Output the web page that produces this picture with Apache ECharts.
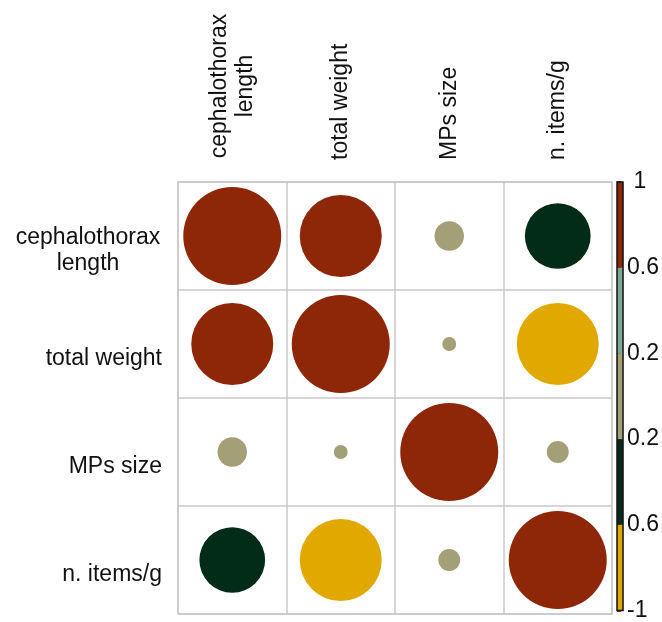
<!DOCTYPE html>
<html>
<head>
<meta charset="utf-8">
<script src="https://cdn.jsdelivr.net/npm/echarts@6/dist/echarts.min.js"></script>
<style>
  html, body { margin: 0; padding: 0; background: #fff; }
  #main { width: 662px; height: 622px; }
</style>
</head>
<body>
<div id="main"></div>
<script>
// variables, same order for rows and columns
const variables = ['cephalothorax\nlength', 'total weight', 'MPs size', 'n. items/g'];

// correlations (circle area ~ |r|)
const corrRows = [
  [1.00, 0.70, 0.09, -0.45],
  [0.70, 1.00, 0.02, -0.70],
  [0.09, 0.02, 1.00, 0.05],
  [-0.45, -0.70, 0.05, 1.00]
];

// colour legend, bottom to top
const colorBreaks = [-1, -0.6, -0.2, 0.2, 0.6, 1];
const bandColors = ['#E1A900', '#022C17', '#A39F77', '#7DA797', '#8E2708'];
const colorbarLabels = ['-1', '0.6', '0.2', '0.2', '0.6', ' 1'];

const labelFont = 'Liberation Sans, Arial, sans-serif';
const fs = 23;
const maxDiameter = 98;

let cells = [];
corrRows.forEach((row, i) => {
  row.forEach((r, j) => cells.push([j, i, r]));
});

let bands = [];
for (let k = 0; k < bandColors.length; k++) {
  bands.push([colorBreaks[k], colorBreaks[k + 1], k]);
}

// two-line labels get their lines centred
const twoLine = v => v.indexOf('\n') >= 0
  ? v.split('\n').map(s => '{c|' + s + '}').join('\n')
  : v;
const richStyle = { c: { width: 148, align: 'center', fontSize: fs, lineHeight: 26, color: '#111', fontFamily: labelFont } };

let myChart = echarts.init(document.getElementById('main'));
myChart.setOption({
  animation: false,
  grid: [
    { left: 178, top: 182, width: 434, height: 432, show: true, borderColor: '#c8c8c8', borderWidth: 1.5 },
    { left: 617, top: 182, width: 15, height: 433, show: true, borderColor: '#111', borderWidth: 1.5, z: 5 }
  ],
  xAxis: [
    {
      gridIndex: 0,
      type: 'category',
      data: variables,
      position: 'top',
      axisLine: { show: false },
      axisTick: { show: false },
      splitLine: { show: true, lineStyle: { color: '#c8c8c8', width: 1.5 } },
      axisLabel: {
        rotate: -90, margin: 22, fontSize: fs, color: '#111', fontFamily: labelFont,
        lineHeight: 26, formatter: twoLine, rich: richStyle
      }
    },
    { gridIndex: 1, type: 'value', min: 0, max: 1, show: false }
  ],
  yAxis: [
    {
      gridIndex: 0,
      type: 'category',
      data: variables,
      inverse: true,
      axisLine: { show: false },
      axisTick: { show: false },
      splitLine: { show: true, lineStyle: { color: '#c8c8c8', width: 1.5 } },
      axisLabel: {
        margin: 16, fontSize: fs, color: '#111', fontFamily: labelFont,
        lineHeight: 26, padding: [30, 0, 0, 0], formatter: twoLine, rich: richStyle
      }
    },
    {
      gridIndex: 1,
      type: 'value',
      min: -1,
      max: 1,
      position: 'right',
      axisLine: { show: false },
      splitLine: { show: false },
      axisTick: { show: true, length: 4, customValues: colorBreaks, lineStyle: { color: '#111', width: 1.5 } },
      axisLabel: {
        customValues: colorBreaks, margin: 4, fontSize: fs, color: '#111', fontFamily: labelFont,
        formatter: v => {
          let k = 0;
          colorBreaks.forEach((b, i) => { if (Math.abs(b - v) < 1e-6) k = i; });
          return colorbarLabels[k];
        }
      }
    }
  ],
  visualMap: {
    type: 'piecewise',
    show: false,
    dimension: 2,
    seriesIndex: 0,
    pieces: bandColors.map((c, k) => ({ gte: colorBreaks[k], lt: k === bandColors.length - 1 ? 1.0001 : colorBreaks[k + 1], color: c }))
  },
  series: [
    {
      type: 'scatter',
      xAxisIndex: 0,
      yAxisIndex: 0,
      data: cells,
      symbol: 'circle',
      symbolSize: val => maxDiameter * Math.sqrt(Math.abs(val[2])),
      itemStyle: { opacity: 1 },
      emphasis: { disabled: true }
    },
    {
      type: 'custom',
      xAxisIndex: 1,
      yAxisIndex: 1,
      data: bands,
      renderItem: (params, api) => {
        const p0 = api.coord([0, api.value(0)]);
        const p1 = api.coord([1, api.value(1)]);
        return {
          type: 'rect',
          shape: { x: p0[0], y: p1[1], width: p1[0] - p0[0], height: p0[1] - p1[1] },
          style: { fill: bandColors[api.value(2)] }
        };
      }
    }
  ]
});
</script>
</body>
</html>
